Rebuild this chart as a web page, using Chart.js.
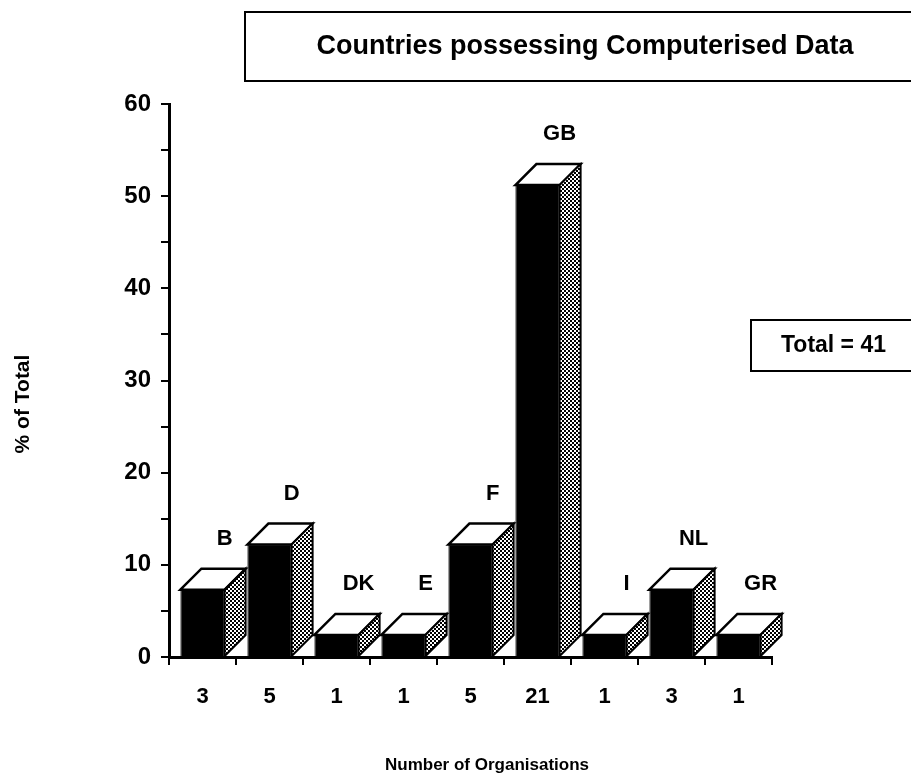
<!DOCTYPE html>
<html>
<head>
<meta charset="utf-8">
<script src="https://cdn.jsdelivr.net/npm/chart.js@4.4.0/dist/chart.umd.min.js"></script>
<style>
  html, body { margin: 0; padding: 0; background: #fff; }
  #wrap { width: 911px; height: 778px; position: relative; }
</style>
</head>
<body>
<div id="wrap"><canvas id="chart" width="911" height="778"></canvas></div>
<script>
// Countries and their number of organisations holding computerised data
const countries = ['B', 'D', 'DK', 'E', 'F', 'GB', 'I', 'NL', 'GR'];
const organisationCounts = ['3', '5', '1', '1', '5', '21', '1', '3', '1'];
const percentOfTotal = [7.3, 12.2, 2.4, 2.4, 12.2, 51.2, 2.4, 7.3, 2.4];
const totalOrganisations = 41;

const chartTitle = 'Countries possessing Computerised Data';
const yAxisTitle = '% of Total';
const xAxisTitle = 'Number of Organisations';

const FONT = '"Liberation Sans", Arial, Helvetica, sans-serif';
const DEPTH = 21;

Chart.defaults.font.family = FONT;
Chart.defaults.color = '#000';

const canvas = document.getElementById('chart');
const ctx = canvas.getContext('2d');

// Stippled fill used for the shaded side of each block
function makeStipple() {
  const c = document.createElement('canvas');
  c.width = 4; c.height = 4;
  const g = c.getContext('2d');
  g.fillStyle = '#000';
  g.fillRect(0, 0, 4, 4);
  g.fillStyle = '#fff';
  [[0, 0], [1, 0], [0, 1], [2, 2], [3, 2], [2, 3], [1, 1], [3, 3]]
    .forEach(([a, b]) => g.fillRect(a, b, 1, 1));
  return ctx.createPattern(c, 'repeat');
}
const stipple = makeStipple();

// Draws the top and side faces of each bar plus the country label above it
const blocks3d = {
  id: 'blocks3d',
  afterDatasetsDraw(chart) {
    const c = chart.ctx;
    const meta = chart.getDatasetMeta(0);
    c.save();
    c.lineJoin = 'miter';
    meta.data.forEach((bar, i) => {
      const { x, y, base, width } = bar.getProps(['x', 'y', 'base', 'width'], true);
      const x0 = x - width / 2, x1 = x + width / 2;
      // top face
      c.beginPath();
      c.moveTo(x0, y);
      c.lineTo(x0 + DEPTH, y - DEPTH);
      c.lineTo(x1 + DEPTH, y - DEPTH);
      c.lineTo(x1, y);
      c.closePath();
      c.fillStyle = '#fff';
      c.fill();
      c.lineWidth = 2.5;
      c.strokeStyle = '#000';
      c.stroke();
      // side face
      c.beginPath();
      c.moveTo(x1, y);
      c.lineTo(x1 + DEPTH, y - DEPTH);
      c.lineTo(x1 + DEPTH, base - DEPTH);
      c.lineTo(x1, base);
      c.closePath();
      c.fillStyle = stipple;
      c.fill();
      c.lineWidth = 2;
      c.stroke();
      // country label
      c.fillStyle = '#000';
      c.font = 'bold 22px ' + FONT;
      c.textAlign = 'center';
      c.textBaseline = 'middle';
      c.fillText(countries[i], x1, y - DEPTH - 30);
    });
    c.restore();
  }
};

// Title box, total box and axis titles
const frame = {
  id: 'frame',
  afterDraw(chart) {
    const c = chart.ctx;
    c.save();
    c.strokeStyle = '#000';
    c.fillStyle = '#000';
    c.lineWidth = 2;
    // title box
    c.strokeRect(245, 12, 700, 69);
    c.font = 'bold 27px ' + FONT;
    c.textAlign = 'center';
    c.textBaseline = 'middle';
    c.fillText(chartTitle, 585, 47);
    // total box
    c.strokeRect(751, 320, 200, 51);
    c.font = 'bold 23px ' + FONT;
    c.textAlign = 'left';
    c.fillText('Total = ' + totalOrganisations, 781, 346);
    // axis titles
    c.font = 'bold 21px ' + FONT;
    c.textAlign = 'center';
    c.save();
    c.translate(23, 404);
    c.rotate(-Math.PI / 2);
    c.fillText(yAxisTitle, 0, 0);
    c.restore();
    c.font = 'bold 17px ' + FONT;
    c.fillText(xAxisTitle, 487, 765);
    c.restore();
  }
};

new Chart(canvas, {
  type: 'bar',
  data: {
    labels: organisationCounts,
    datasets: [{
      data: percentOfTotal,
      backgroundColor: '#000',
      borderColor: '#000',
      borderWidth: 1,
      barPercentage: 0.66,
      categoryPercentage: 1.0
    }]
  },
  options: {
    responsive: false,
    animation: false,
    devicePixelRatio: 1,
    layout: { padding: { top: 104, right: 139, bottom: 0, left: 0 } },
    plugins: { legend: { display: false }, tooltip: { enabled: false }, title: { display: false } },
    scales: {
      x: {
        grid: { offset: true, drawOnChartArea: false, drawTicks: true, tickLength: 8, color: '#000', lineWidth: 2 },
        border: { display: true, color: '#000', width: 3 },
        ticks: { color: '#000', font: { size: 22, weight: 'bold' }, padding: 19, maxRotation: 0, autoSkip: false },
        afterFit(scale) { scale.height = 121; }
      },
      y: {
        min: 0,
        max: 60,
        grid: { drawOnChartArea: false, drawTicks: true, tickLength: 8, color: '#000', lineWidth: 2 },
        border: { display: true, color: '#000', width: 3 },
        ticks: {
          stepSize: 5,
          color: '#000',
          font: { size: 24, weight: 'bold' },
          padding: 10,
          callback: (v) => (v % 10 === 0 ? String(v) : '')
        },
        afterFit(scale) { scale.width = 169; }
      }
    }
  },
  plugins: [blocks3d, frame]
});
</script>
</body>
</html>
